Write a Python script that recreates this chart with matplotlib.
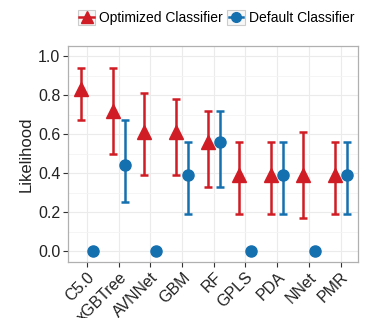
import matplotlib
matplotlib.use("Agg")
import matplotlib.pyplot as plt
import numpy as np
from matplotlib.lines import Line2D
from matplotlib.patches import Rectangle
from matplotlib.legend_handler import HandlerBase

plt.rcParams["font.family"] = ["Liberation Sans", "DejaVu Sans"]

models = ["C5.0", "xGBTree", "AVNNet", "GBM", "RF", "GPLS", "PDA", "NNet", "PMR"]
opt_mean = [0.83, 0.72, 0.61, 0.61, 0.56, 0.39, 0.39, 0.39, 0.39]
opt_low = [0.67, 0.50, 0.39, 0.39, 0.33, 0.19, 0.19, 0.17, 0.19]
opt_high = [0.94, 0.94, 0.81, 0.78, 0.72, 0.56, 0.56, 0.61, 0.56]
def_mean = [0.0, 0.44, 0.0, 0.39, 0.56, 0.0, 0.39, 0.0, 0.39]
def_low = [0.0, 0.25, 0.0, 0.19, 0.33, 0.0, 0.19, 0.0, 0.19]
def_high = [0.0, 0.67, 0.0, 0.56, 0.72, 0.0, 0.56, 0.0, 0.56]

red = "#d01c24"
blue = "#1570b0"

fig = plt.figure(figsize=(3.76, 3.18), dpi=100)
ax = fig.add_axes([0.181, 0.176, 0.771, 0.679])

x = np.arange(1, len(models) + 1)
dodge = 0.19
om, ol, oh = map(np.array, (opt_mean, opt_low, opt_high))
dm, dl, dh = map(np.array, (def_mean, def_low, def_high))

ax.errorbar(x - dodge, om, yerr=[om - ol, oh - om], fmt="none", ecolor=red,
            elinewidth=1.8, capsize=3, capthick=1.8, zorder=3)
ax.plot(x - dodge, om, linestyle="none", marker="^", markersize=10, color=red, zorder=4)
has_err = dh > dl
ax.errorbar((x + dodge)[has_err], dm[has_err], yerr=[(dm - dl)[has_err], (dh - dm)[has_err]],
            fmt="none", ecolor=blue, elinewidth=1.8, capsize=3, capthick=1.8, zorder=3)
ax.plot(x + dodge, dm, linestyle="none", marker="o", markersize=8, color=blue, zorder=4)

ax.set_xlim(0.4, 9.55)
ax.set_ylim(-0.056, 1.051)
ax.set_yticks([0.0, 0.2, 0.4, 0.6, 0.8, 1.0])
ax.set_yticklabels(["0.0", "0.2", "0.4", "0.6", "0.8", "1.0"], fontsize=11.5, color="#222222")
ax.set_yticks(np.arange(0.1, 1.0, 0.2), minor=True)
ax.set_xticks(x)
ax.set_xticklabels(models, rotation=45, ha="right", rotation_mode="anchor", fontsize=11.5, color="#222222")
ax.tick_params(axis="both", which="major", length=3.5, width=0.8, color="#333333", pad=2)
ax.tick_params(axis="y", which="minor", length=0)
ax.set_ylabel("Likelihood", fontsize=12, color="#222222", labelpad=3)

ax.grid(True, which="major", color="#ebebeb", linewidth=0.8)
ax.grid(True, which="minor", axis="y", color="#f4f4f4", linewidth=0.6)
ax.set_axisbelow(True)
for s in ax.spines.values():
    s.set_color("#b0b0b0")
    s.set_linewidth(0.9)


class BoxKey(HandlerBase):
    def __init__(self, marker, color, ms):
        super().__init__()
        self.marker, self.color, self.ms = marker, color, ms

    def create_artists(self, legend, orig_handle, xdescent, ydescent, width, height, fontsize, trans):
        rect = Rectangle((-xdescent, -ydescent), width, height, facecolor="#f7f7f7",
                         edgecolor="#cccccc", linewidth=0.8, transform=trans)
        cy = -ydescent + height / 2
        ln = Line2D([-xdescent + 1, -xdescent + width - 1], [cy, cy], color=self.color,
                    linewidth=1.8, transform=trans)
        mk = Line2D([-xdescent + width / 2], [cy], marker=self.marker, markersize=self.ms,
                    color=self.color, linestyle="none", transform=trans)
        return [rect, ln, mk]


h1 = Line2D([], [], color=red)
h2 = Line2D([], [], color=blue)
leg = fig.legend([h1, h2], ["Optimized Classifier", "Default Classifier"], loc="center",
                 bbox_to_anchor=(0.575, 0.945), ncol=2, frameon=False, fontsize=10,
                 handlelength=1.25, handleheight=1.25, handletextpad=0.3, columnspacing=0.3,
                 handler_map={h1: BoxKey("^", red, 8), h2: BoxKey("o", blue, 7)})

fig.savefig("out.png", dpi=100)
